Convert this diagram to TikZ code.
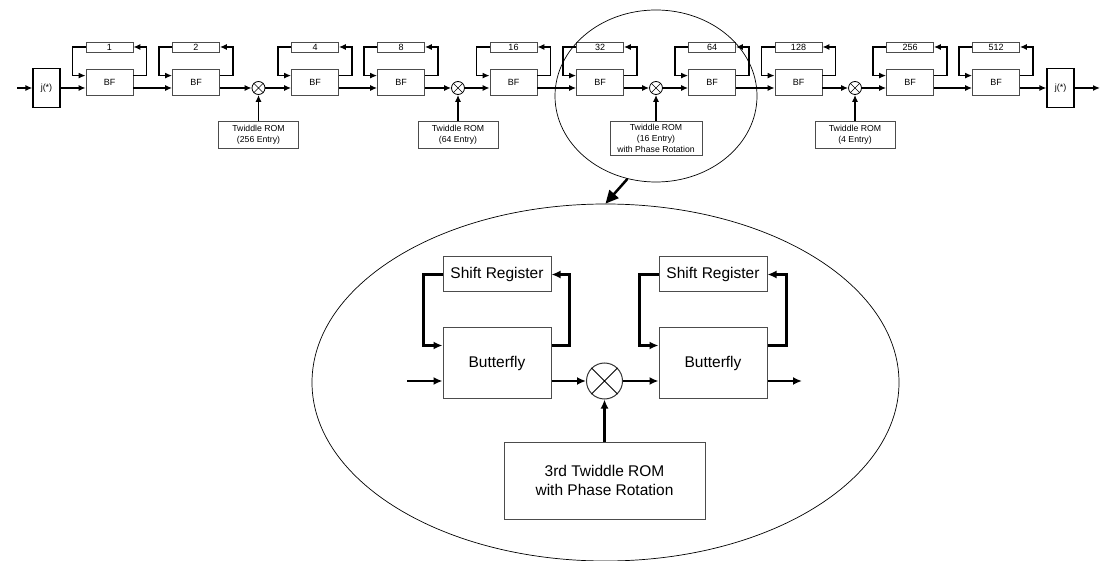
\documentclass[tikz,border=0pt]{standalone}
\usepackage{fontspec}
\setmainfont{Liberation Sans}
\usetikzlibrary{arrows.meta,shapes.geometric}
\tikzset{bfbox/.style={draw=black!70, line width=0.8pt, minimum width=47pt, minimum height=26pt, inner sep=0pt, font=\fontsize{9}{10}\selectfont},
         regbox/.style={bfbox, minimum height=10pt},
         jbox/.style={draw, line width=1.2pt, minimum width=27pt, minimum height=39pt, inner sep=0pt, font=\fontsize{9}{10}\selectfont},
         rombox/.style={draw=black!70, line width=0.8pt, minimum width=80pt, minimum height=27pt, inner sep=0pt, align=center, font=\fontsize{8.7}{11}\selectfont},
         mult/.style={circle, draw, line width=0.8pt, minimum size=13pt, inner sep=0pt},
         sig/.style={line width=1.3pt, -{Latex[length=7pt,width=6pt]}},
         bigbox/.style={draw=black!70, line width=1pt, minimum width=108pt, inner sep=0pt, align=center, font=\fontsize{15.5}{19}\selectfont},
         bigmult/.style={circle, draw=black!80, line width=1pt, minimum size=36pt, inner sep=0pt},
         bigsig/.style={line width=2.1pt, -{Latex[length=9pt,width=8pt]}},
         zoomring/.style={ellipse, draw, line width=0.7pt, inner sep=0pt}}

\begin{document}
\begin{tikzpicture}[x=1pt,y=-1pt]
       \useasboundingbox (0,0) rectangle (1101,561);
       \begin{scope}
        \coordinate (in) at (17,88);
        \coordinate (out) at (1100,88);
        \node[jbox] (j1) at (46.5,88) {j(*)};
        \node[jbox] (j2) at (1060.5,88) {j(*)};
        \foreach \n/\x/\lab in {1/109.5/1, 2/196/2, 3/315/4, 4/401/8, 5/513.5/16, 6/600/32, 7/712/64, 8/798.5/128, 9/910/256, 10/996/512} {
          \node[bfbox] (b\n) at (\x,82) {BF};
          \node[regbox] (r\n) at (\x,47) {\lab};
          \draw[sig] ([yshift=-7pt]b\n.north east) -- ++(13,0) |- (r\n);
          \draw[sig] (r\n.west) -- ++(-13,0) |- ([yshift=-7pt]b\n.north west);
        }
        \node[mult] (m1) at (258.5,88) {};
        \node[mult] (m2) at (458,88) {};
        \node[mult] (m3) at (656,88) {};
        \node[mult] (m4) at (855,88) {};
        \foreach \m in {m1,m2,m3,m4}
          \draw[line width=0.6pt] (\m.45) -- (\m.225) (\m.135) -- (\m.315);
        \node[rombox] (rom1) at (258.5,134.5) {Twiddle ROM\\(256 Entry)};
        \node[rombox] (rom2) at (458,134.5) {Twiddle ROM\\(64 Entry)};
        \node[rombox, minimum width=92pt, minimum height=34pt] (rom3) at (656,138) {Twiddle ROM\\(16 Entry)\\with Phase Rotation};
        \node[rombox] (rom4) at (855,134.5) {Twiddle ROM\\(4 Entry)};
        \draw[sig] (in) -- (j1);
        \draw[sig] (j1) -- (j1 -| b1.west);
        \foreach \a/\b in {1/2,3/4,5/6,7/8,9/10}
          \draw[sig] (j1 -| b\a.east) -- (j1 -| b\b.west);
        \foreach \a/\k in {2/1,4/2,6/3,8/4}
          \draw[sig] (j1 -| b\a.east) -- (m\k);
        \foreach \k/\b in {1/3,2/5,3/7,4/9}
          \draw[sig] (m\k) -- (m\k -| b\b.west);
        \foreach \k in {1,2,3,4}
          \draw[sig] (rom\k) -- (m\k);
        \draw[sig] (j1 -| b10.east) -- (j2);
        \draw[sig] (j2) -- (out);
       \end{scope}
       \begin{scope}
        \node[zoomring, minimum width=202pt, minimum height=172pt] (zoomS) at (656,96) {};
        \node[zoomring, minimum width=587pt, minimum height=357pt] (zoomL) at (605.5,382.5) {};
        \draw[line width=2.5pt, -{Triangle[length=13pt,width=12pt]}] (zoomS.251) -- (zoomL.north);
        \coordinate (inb) at (407,381);
        \coordinate (outb) at (802,381);
        \node[bigbox, minimum height=35pt] (sr1) at (497,274.5) {Shift Register};
        \node[bigbox, minimum height=71pt] (bt1) at (497,363.5) {Butterfly};
        \node[bigbox, minimum height=35pt] (sr2) at (713,274.5) {Shift Register};
        \node[bigbox, minimum height=71pt] (bt2) at (713,363.5) {Butterfly};
        \node[bigmult] (mb) at (604.5,381) {};
        \draw[line width=0.8pt] (mb.45) -- (mb.225) (mb.135) -- (mb.315);
        \node[bigbox, minimum width=201pt, minimum height=77pt] (romb) at (604.5,480.5) {3rd Twiddle ROM\\with Phase Rotation};
        \draw[bigsig] ([yshift=-18pt]bt1.north east) -- ++(18,0) |- (sr1);
        \draw[bigsig] (sr1.west) -- ++(-19,0) |- ([yshift=-18pt]bt1.north west);
        \draw[bigsig] ([yshift=-18pt]bt2.north east) -- ++(19,0) |- (sr2);
        \draw[bigsig] (sr2.west) -- ++(-19,0) |- ([yshift=-18pt]bt2.north west);
        \draw[bigsig] (inb) -- (inb -| bt1.west);
        \draw[bigsig] (mb -| bt1.east) -- (mb);
        \draw[bigsig] (mb) -- (mb -| bt2.west);
        \draw[bigsig] (romb) -- (mb);
        \draw[bigsig] (mb -| bt2.east) -- (outb);
       \end{scope}
      \end{tikzpicture}
\end{document}
